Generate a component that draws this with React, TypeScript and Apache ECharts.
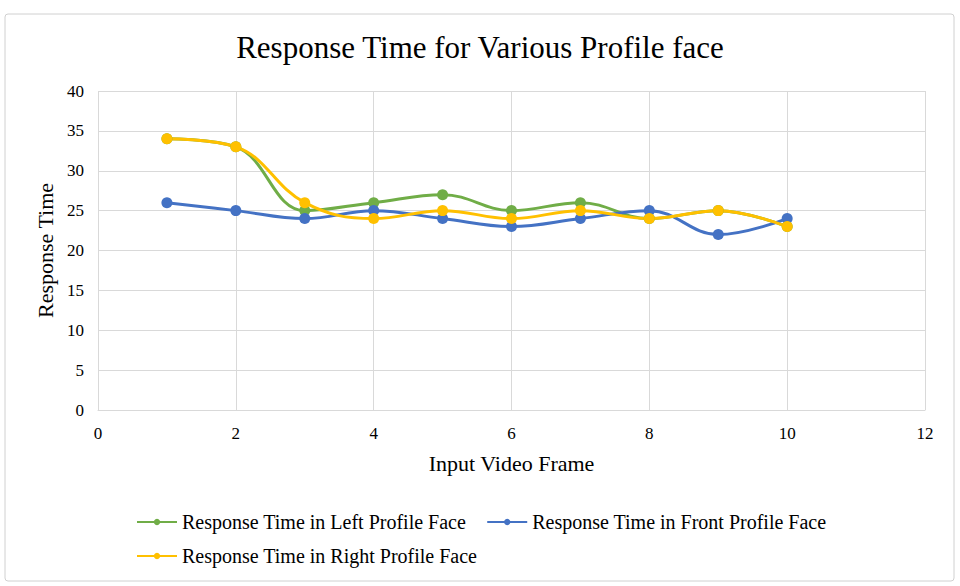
import { useEffect, useRef } from "react";
import * as echarts from "echarts";

const frames = [1, 2, 3, 4, 5, 6, 7, 8, 9, 10];
const leftFace = [34, 33, 25, 26, 27, 25, 26, 24, 25, 23];
const frontFace = [26, 25, 24, 25, 24, 23, 24, 25, 22, 24];
const rightFace = [34, 33, 26, 24, 25, 24, 25, 24, 25, 23];

const seriesNames = [
  "Response Time in Left Profile Face",
  "Response Time in Front Profile Face",
  "Response Time in Right Profile Face",
];
const seriesColors = ["#70ad47", "#4472c4", "#ffc000"];

const FONT = "'Liberation Serif', 'Times New Roman', serif";

export default function App() {
  const chartRef = useRef<HTMLDivElement | null>(null);

  useEffect(() => {
    if (!chartRef.current) return;
    const chart = echarts.init(chartRef.current, undefined, { renderer: "svg" });
    const values = [leftFace, frontFace, rightFace];
    const legendText = { fontFamily: FONT, fontSize: 20, color: "#000" };

    chart.setOption({
      animation: false,
      backgroundColor: "#ffffff",
      textStyle: { fontFamily: FONT, color: "#000" },
      title: {
        text: "Response Time for Various Profile face",
        left: "center",
        top: 27,
        textStyle: { fontFamily: FONT, fontSize: 31, fontWeight: "normal", color: "#000" },
      },
      graphic: [
        {
          type: "rect",
          shape: { x: 5, y: 14, width: 949, height: 567, r: 3 },
          style: { fill: "none", stroke: "#d0d0d0", lineWidth: 1 },
          silent: true,
        },
      ],
      grid: { left: 98, right: 35, top: 91, bottom: 176 },
      legend: [
        {
          data: seriesNames.slice(0, 2),
          left: 131,
          top: 507,
          itemGap: 20,
          itemWidth: 40,
          itemHeight: 8,
          textStyle: legendText,
        },
        {
          data: seriesNames.slice(2),
          left: 131,
          top: 541,
          itemWidth: 40,
          itemHeight: 8,
          textStyle: legendText,
        },
      ],
      xAxis: {
        type: "value",
        min: 0,
        max: 12,
        interval: 2,
        name: "Input Video Frame",
        nameLocation: "middle",
        nameGap: 42,
        nameTextStyle: { fontFamily: FONT, fontSize: 22, color: "#000" },
        axisLine: { show: true, lineStyle: { color: "#d9d9d9" } },
        axisTick: { show: false },
        axisLabel: { fontFamily: FONT, fontSize: 17, color: "#000", margin: 15 },
        splitLine: { show: true, lineStyle: { color: "#d9d9d9" } },
      },
      yAxis: {
        type: "value",
        min: 0,
        max: 40,
        interval: 5,
        name: "Response Time",
        nameLocation: "middle",
        nameGap: 42,
        nameTextStyle: { fontFamily: FONT, fontSize: 22, color: "#000" },
        axisLine: { show: false },
        axisTick: { show: false },
        axisLabel: { fontFamily: FONT, fontSize: 17, color: "#000", margin: 14 },
        splitLine: { show: true, lineStyle: { color: "#d9d9d9" } },
      },
      series: seriesNames.map((name, i) => ({
        name,
        type: "line",
        smooth: 0.4,
        symbol: "circle",
        symbolSize: 11,
        data: frames.map((f, j) => [f, values[i][j]]),
        itemStyle: { color: seriesColors[i] },
        lineStyle: { color: seriesColors[i], width: 3 },
      })),
    });

    return () => {
      chart.dispose();
    };
  }, []);

  return (
    <div
      ref={chartRef}
      style={{ position: "fixed", left: 0, top: 0, width: 960, height: 586 }}
    />
  );
}
